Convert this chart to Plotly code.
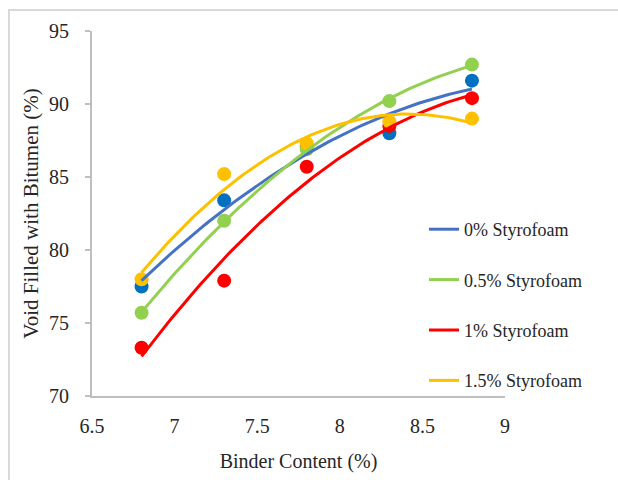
import numpy as np
import plotly.graph_objects as go

binder = [6.8, 7.3, 7.8, 8.3, 8.8]
series_names = ["0% Styrofoam", "0.5% Styrofoam", "1% Styrofoam", "1.5% Styrofoam"]
vfb_0 = [77.5, 83.4, 87.1, 88.0, 91.6]
vfb_05 = [75.7, 82.0, 86.9, 90.2, 92.7]
vfb_1 = [73.3, 77.9, 85.7, 88.5, 90.4]
vfb_15 = [78.0, 85.2, 87.3, 88.8, 89.0]
marker_colors = ["#0070C0", "#92D050", "#FF0000", "#FFC000"]
line_colors = ["#4472C4", "#92D050", "#FF0000", "#FFC000"]
x_ticks = [6.5, 7, 7.5, 8, 8.5, 9]
y_ticks = [70, 75, 80, 85, 90, 95]

all_series = [vfb_0, vfb_05, vfb_1, vfb_15]
FONT = "'Liberation Serif', 'Times New Roman', serif"
TXT = "#262626"

fig = go.Figure()
for vals, mc, name in zip(all_series, marker_colors, series_names):
    fig.add_trace(go.Scatter(x=binder, y=vals, mode="markers",
                             marker=dict(color=mc, size=14, line=dict(width=0)),
                             showlegend=False, name=name))

xs = np.linspace(binder[0], binder[-1], 100)
for i, (vals, lc, name) in enumerate(zip(all_series, line_colors, series_names)):
    coef = np.polyfit(binder, vals, 2)
    fig.add_trace(go.Scatter(x=xs, y=np.polyval(coef, xs), mode="lines",
                             line=dict(color=lc, width=3), name=name,
                             legendgroup=f"g{i}", showlegend=True))

W, H = 618, 480
L, R, T, B = 92, 505, 31, 396
fig.update_layout(
    width=W, height=H,
    margin=dict(l=L, r=W - R, t=T, b=H - B, pad=0),
    paper_bgcolor="white", plot_bgcolor="white",
    font=dict(family=FONT, color=TXT),
    showlegend=True,
    legend=dict(x=(424 - L) / (R - L), xanchor="left", y=(B - 211) / (B - T), yanchor="top",
                tracegroupgap=24, font=dict(size=18, family=FONT, color=TXT),
                bgcolor="rgba(0,0,0,0)", borderwidth=0),
    xaxis=dict(range=[6.5, 9], tickvals=x_ticks, ticktext=[str(v) for v in x_ticks],
               showgrid=False, zeroline=False, showline=True, linecolor="#BFBFBF",
               linewidth=2, ticks="", ticklabelstandoff=11,
               tickfont=dict(size=20, family=FONT, color=TXT),
               title=dict(text="Binder Content (%)", font=dict(size=20, family=FONT, color=TXT),
                          standoff=18)),
    yaxis=dict(range=[70, 95], tickvals=y_ticks, showgrid=False, zeroline=False,
               showline=True, linecolor="#BFBFBF", linewidth=2, ticks="outside",
               ticklen=5, tickcolor="#BFBFBF", tickwidth=2, ticklabelstandoff=12,
               tickfont=dict(size=20, family=FONT, color=TXT),
               title=dict(text="Void Filled with Bitumen (%)",
                          font=dict(size=21, family=FONT, color=TXT), standoff=5)),
    shapes=[dict(type="rect", xref="paper", yref="paper",
                 x0=(9 - L) / (R - L), x1=(W + 5 - L) / (R - L),
                 y0=(B - (H + 5)) / (B - T), y1=(B - 10) / (B - T),
                 line=dict(color="#D9D9D9", width=2), fillcolor="rgba(0,0,0,0)", layer="below")],
)

fig.write_html("out.html")
